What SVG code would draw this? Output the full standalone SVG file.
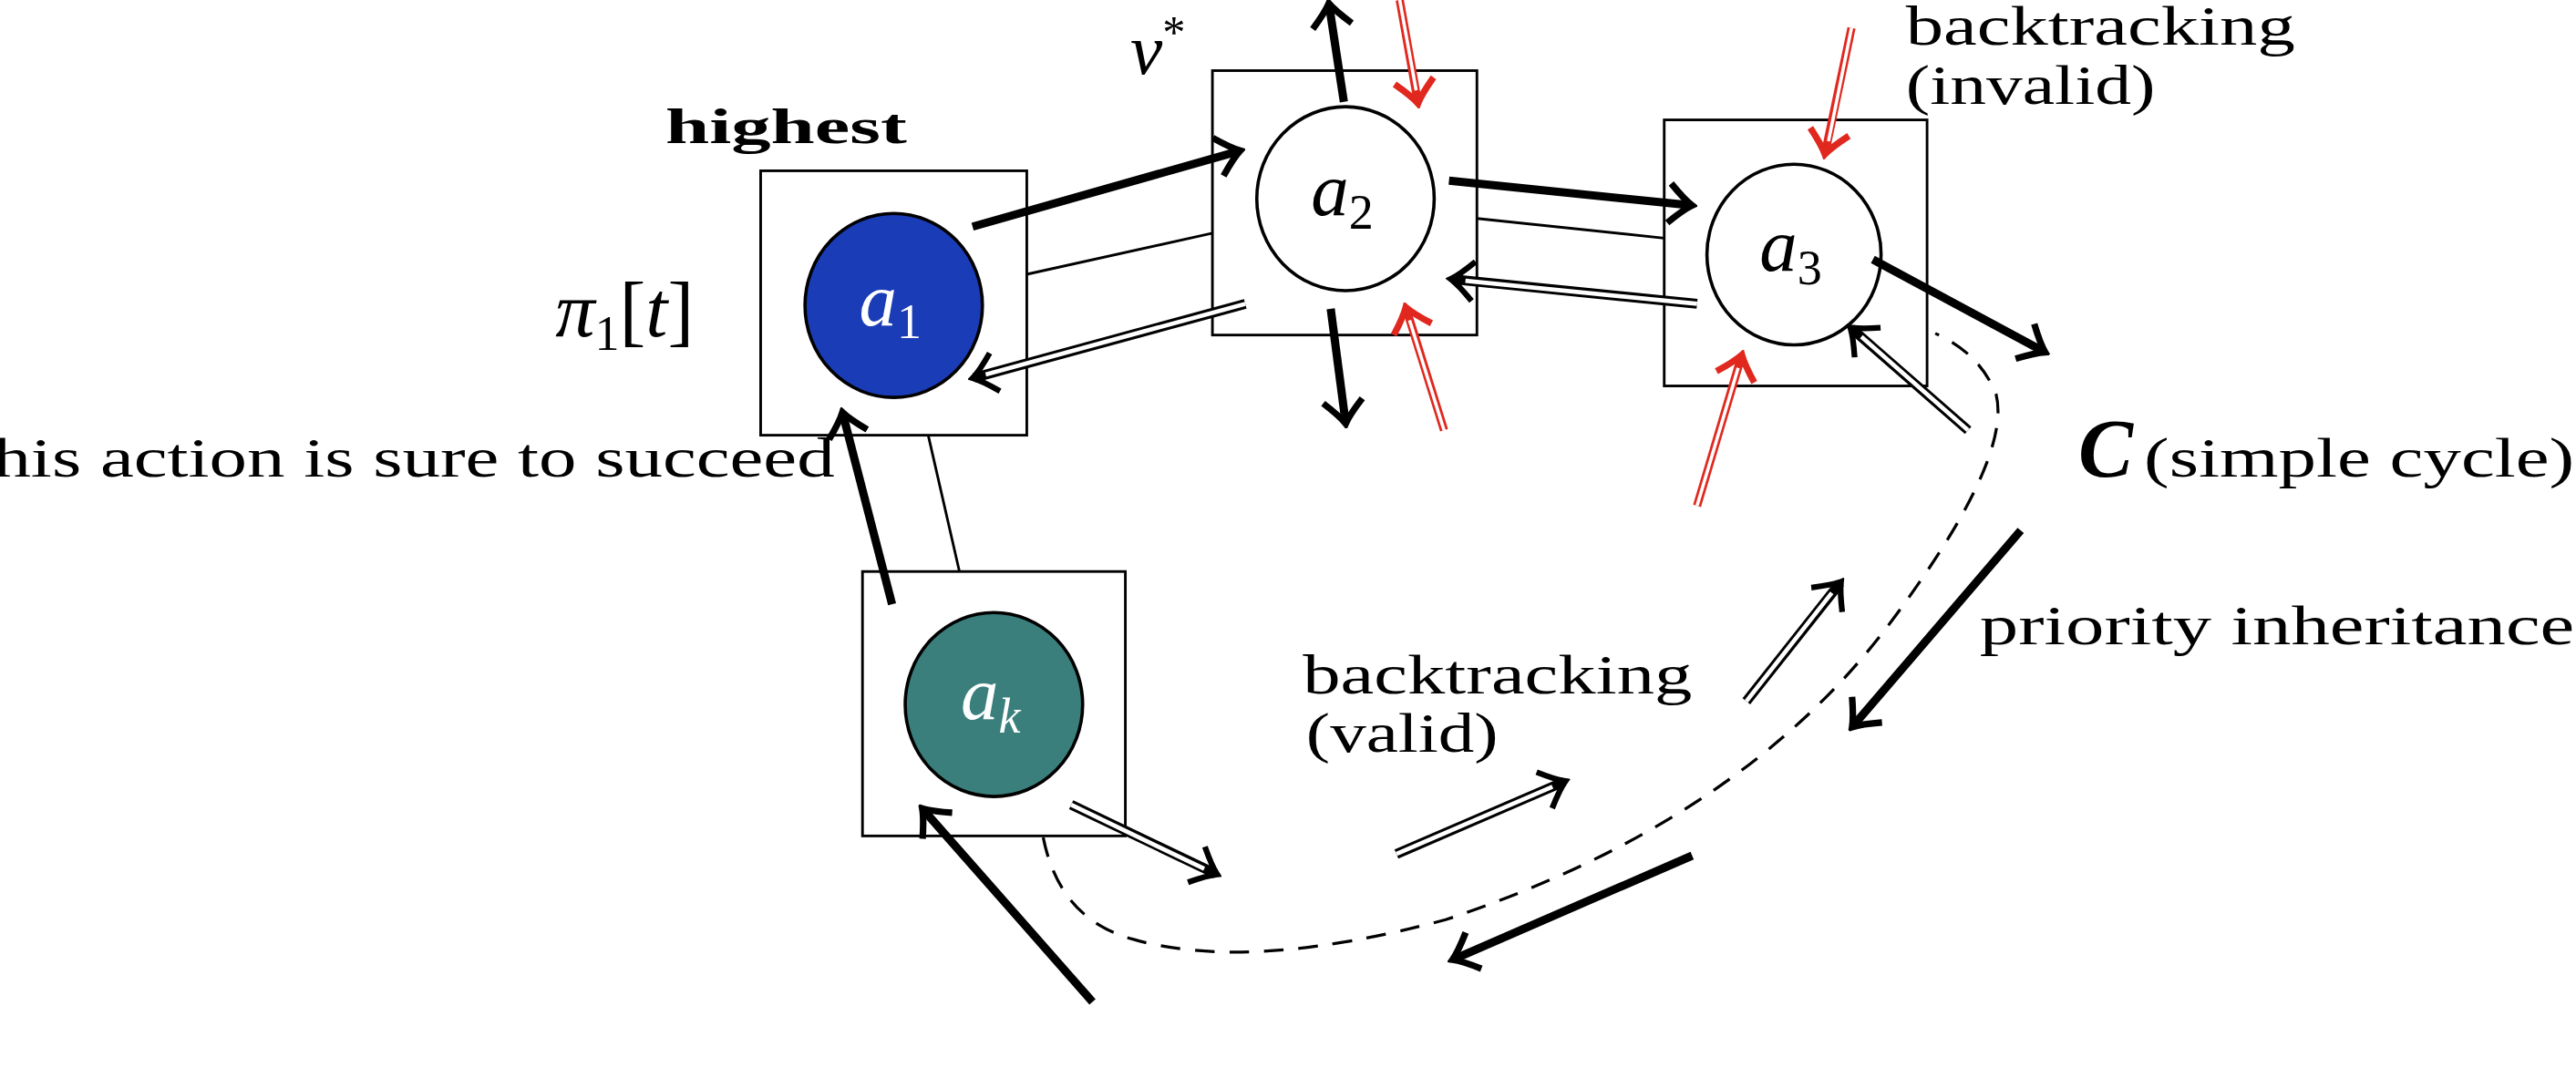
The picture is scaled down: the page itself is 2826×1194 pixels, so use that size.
<svg xmlns="http://www.w3.org/2000/svg" width="2826" height="1194" viewBox="0 0 2826 1194">
<style>
.box{fill:#fff;stroke:#000;stroke-width:1.6}
.c{stroke:#000;stroke-width:2}
.t{font-family:"Liberation Serif",serif;fill:#000}
.m{font-family:"Liberation Serif",serif;font-style:italic}
.thk{stroke:#000;stroke-width:5;fill:none;marker-end:url(#hb)}
.thin{stroke:#000;stroke-width:1.6}
.dbo{stroke:#000;stroke-width:6;fill:none;marker-end:url(#hb2)}
.dbi{stroke:#fff;stroke-width:2.6;fill:none}
.rdo{stroke:#e0281e;stroke-width:5;fill:none;marker-end:url(#hr)}
.rdi{stroke:#fff;stroke-width:2;fill:none}
</style>
<defs>
<marker id="hb" markerUnits="userSpaceOnUse" viewBox="-16 -14 20 28" refX="0" refY="0" markerWidth="20" markerHeight="28" orient="auto"><path d="M-13,-12 Q-4,-3 1,0 Q-4,3 -13,12" fill="none" stroke="#000" stroke-width="4"/></marker>
<marker id="hb2" markerUnits="userSpaceOnUse" viewBox="-16 -14 20 28" refX="0" refY="0" markerWidth="20" markerHeight="28" orient="auto"><path d="M-13,-12 Q-4,-3 1,0 Q-4,3 -13,12" fill="none" stroke="#000" stroke-width="3.5"/></marker>
<marker id="hr" markerUnits="userSpaceOnUse" viewBox="-16 -14 20 28" refX="0" refY="0" markerWidth="20" markerHeight="28" orient="auto"><path d="M-13,-12 Q-4,-3 1,0 Q-4,3 -13,12" fill="none" stroke="#e0281e" stroke-width="4"/></marker>
</defs>
<rect width="2826" height="1194" fill="#fff"/>
<g transform="scale(1.8023)">
<g id="n1"><rect class="box" x="463" y="104" width="162" height="161"/><ellipse class="c" cx="544" cy="186" rx="54" ry="56" fill="#1a3cb6"/><text class="m" x="542" y="198" font-size="46" text-anchor="middle" fill="#fff">a<tspan font-size="30" dy="8" font-style="normal">1</tspan></text></g>
<g id="n2"><rect class="box" x="738" y="43" width="161" height="161"/><ellipse class="c" cx="819" cy="121" rx="54" ry="56" fill="#fff"/><text class="m" x="817" y="131" font-size="46" text-anchor="middle">a<tspan font-size="30" dy="8" font-style="normal">2</tspan></text></g>
<g id="n3"><rect class="box" x="1013" y="73" width="160" height="162"/><ellipse class="c" cx="1092" cy="155" rx="53" ry="55" fill="#fff"/><text class="m" x="1090" y="165" font-size="46" text-anchor="middle">a<tspan font-size="30" dy="8" font-style="normal">3</tspan></text></g>
<g id="nk"><rect class="box" x="525" y="348" width="160" height="161"/><ellipse class="c" cx="605" cy="429" rx="54" ry="56" fill="#3a7f7c"/><text class="m" x="603" y="438" font-size="46" text-anchor="middle" fill="#fff">a<tspan font-size="30" dy="8">k</tspan></text></g>
<g id="labels">
<text class="t" x="405" y="87" font-size="30" font-weight="bold" textLength="147" lengthAdjust="spacingAndGlyphs">highest</text>
<text class="m" x="338" y="205" font-size="48">π<tspan font-size="30" dy="8" font-style="normal">1</tspan><tspan dy="-8" font-style="normal">[</tspan>t<tspan font-style="normal">]</tspan></text>
<text class="m" x="688" y="45" font-size="44">v<tspan font-size="28" dy="-16" font-style="normal">*</tspan></text>
<text class="t" x="1160" y="27" font-size="34" textLength="237" lengthAdjust="spacingAndGlyphs">backtracking</text>
<text class="t" x="1160" y="63" font-size="34" textLength="152" lengthAdjust="spacingAndGlyphs">(invalid)</text>
<text class="t" x="1265" y="290" font-size="50" font-weight="bold" font-style="italic">C</text>
<text class="t" x="1305" y="290" font-size="34" textLength="262" lengthAdjust="spacingAndGlyphs">(simple cycle)</text>
<text class="t" x="508" y="290" font-size="34" text-anchor="end" textLength="525" lengthAdjust="spacingAndGlyphs">this action is sure to succeed</text>
<text class="t" x="1205" y="392" font-size="34" textLength="362" lengthAdjust="spacingAndGlyphs">priority inheritance</text>
<text class="t" x="793" y="422" font-size="34" textLength="237" lengthAdjust="spacingAndGlyphs">backtracking</text>
<text class="t" x="795" y="458" font-size="34" textLength="117" lengthAdjust="spacingAndGlyphs">(valid)</text>
</g>
<g id="connectors">
<line class="thin" x1="625" y1="167" x2="738" y2="142"/>
<line class="thin" x1="899" y1="133" x2="1013" y2="145"/>
<line class="thin" x1="565" y1="265" x2="584" y2="348"/>
<path d="M635,510 Q645,560 690,572 Q760,592 880,560 Q1060,500 1150,380 Q1225,280 1215,240 Q1205,215 1178,203" fill="none" stroke="#000" stroke-width="1.8" stroke-dasharray="12,9"/>
<line class="thk" x1="592" y1="138" x2="754" y2="92"/>
<line class="thk" x1="882" y1="110" x2="1029" y2="125"/>
<line class="thk" x1="1140" y1="158" x2="1244" y2="214"/>
<line class="thk" x1="818" y1="62" x2="809" y2="3"/>
<line class="thk" x1="810" y1="188" x2="819" y2="257"/>
<line class="thk" x1="543" y1="368" x2="513" y2="252"/>
<line class="thk" x1="665" y1="610" x2="562" y2="493"/>
<line class="thk" x1="1230" y1="323" x2="1128" y2="442"/>
<line class="thk" x1="1030" y1="521" x2="885" y2="584"/>
<g><line class="dbo" x1="758" y1="185" x2="593" y2="230"/><line class="dbi" x1="758" y1="185" x2="600" y2="228"/></g>
<g><line class="dbo" x1="1033" y1="185" x2="884" y2="170"/><line class="dbi" x1="1033" y1="185" x2="892" y2="171"/></g>
<g><line class="dbo" x1="1198" y1="262" x2="1127" y2="200"/><line class="dbi" x1="1198" y1="262" x2="1133" y2="205"/></g>
<g><line class="dbo" x1="652" y1="490" x2="740" y2="532"/><line class="dbi" x1="652" y1="490" x2="733" y2="529"/></g>
<g><line class="dbo" x1="850" y1="520" x2="952" y2="476"/><line class="dbi" x1="850" y1="520" x2="945" y2="479"/></g>
<g><line class="dbo" x1="1063" y1="427" x2="1120" y2="355"/><line class="dbi" x1="1063" y1="427" x2="1115" y2="361"/></g>
<g><line class="rdo" x1="852" y1="0" x2="863" y2="62"/><line class="rdi" x1="852" y1="0" x2="862" y2="55"/></g>
<g><line class="rdo" x1="879" y1="262" x2="856" y2="188"/><line class="rdi" x1="879" y1="262" x2="858" y2="195"/></g>
<g><line class="rdo" x1="1127" y1="17" x2="1111" y2="93"/><line class="rdi" x1="1127" y1="17" x2="1113" y2="86"/></g>
<g><line class="rdo" x1="1033" y1="308" x2="1060" y2="217"/><line class="rdi" x1="1033" y1="308" x2="1058" y2="224"/></g>
</g>
</g>
</svg>
